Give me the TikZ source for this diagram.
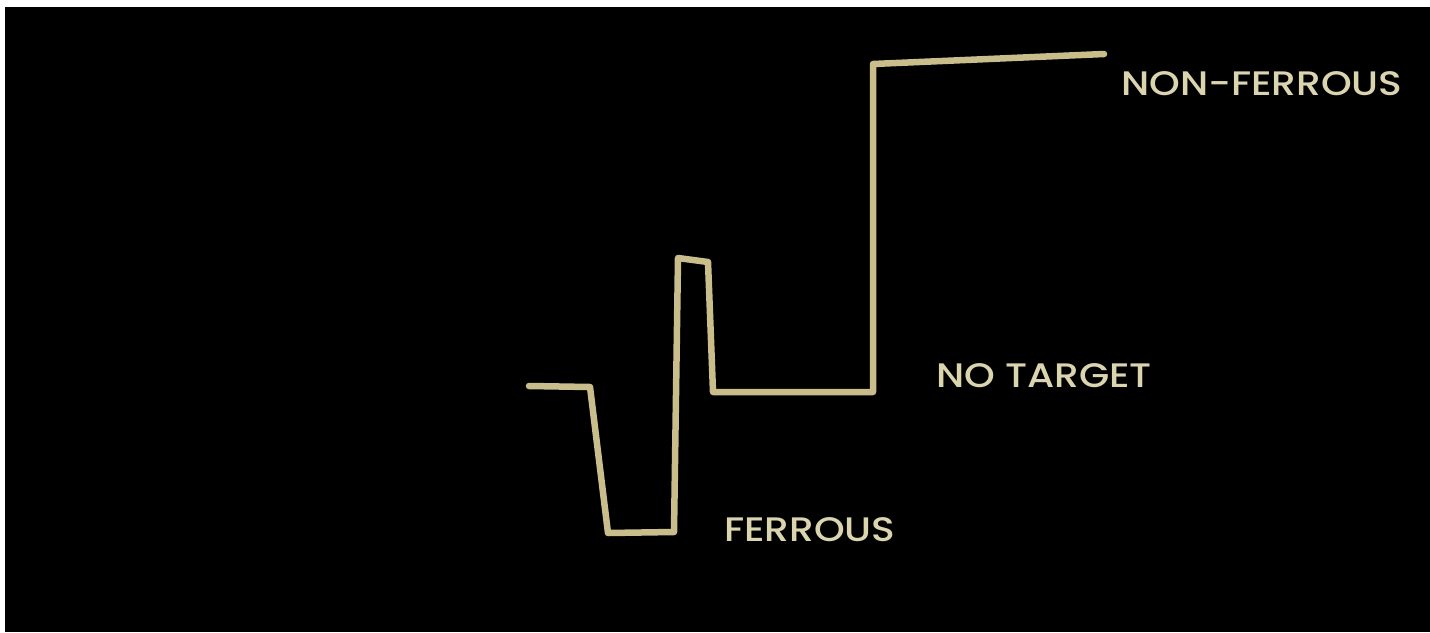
\documentclass[tikz,border=0pt]{standalone}
\usepackage{fontspec}
\setmainfont{Poppins Medium}[FakeStretch=1.15]
\definecolor{trace}{HTML}{C9BD8C}
\definecolor{labeltext}{HTML}{DAD5AE}
\begin{document}
\begin{tikzpicture}[x=1pt, y=-1pt, line join=round, line cap=round]
\tikzset{lbl/.style={anchor=base west, inner sep=0pt, text=labeltext, font=\fontsize{34}{34}\selectfont}}
\useasboundingbox (0,0) rectangle (1430,632);
\fill[white] (0,0) rectangle (1430,632);
\fill[black] (5,7) rectangle (1430,632);
% signal trace
\draw[trace, line width=6.5pt] (529,386) -- (590,387) -- (608,533) -- (674,532) -- (678,258)
  -- (708,262) -- (713,392) -- (873,392) -- (873,64) -- (1104,54);
\node[lbl] (nonferrous) at (1121,95) {NON-FERROUS};
\node[lbl] (notarget) at (936,387) {NO TARGET};
\node[lbl] (ferrous) at (724,541) {FERROUS};
\end{tikzpicture}
\end{document}
